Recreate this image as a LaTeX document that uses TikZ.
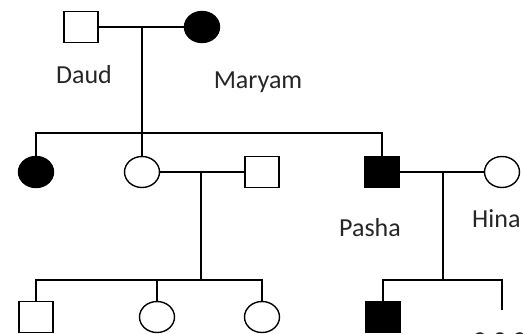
\documentclass[tikz,border=0pt]{standalone}
\usepackage{fontspec}
\setmainfont{Carlito}
\usetikzlibrary{shapes.geometric}
\begin{document}
\begin{tikzpicture}[x=1pt,y=-1pt,
  person/.style={draw=black, line width=1.4pt, inner sep=0pt, fill=white},
  male/.style={person, rectangle, minimum width=34pt, minimum height=31pt},
  female/.style={person, ellipse, minimum width=35pt, minimum height=31pt},
  affected/.style={fill=black},
  link/.style={draw=black, line width=1.4pt},
  lbl/.style={font=\fontsize{26}{30}\selectfont, text=black!85, inner sep=0pt}]
\useasboundingbox (0,0) rectangle (523,333);

% generation I
\node[male] (daud) at (81,27) {};
\node[female, affected] (maryam) at (202,27) {};
\coordinate (m1) at (142,27);
\node[lbl] (ldaud) at (84,75) {Daud};
\node[lbl] (lmaryam) at (258,82) {Maryam};

% generation II
\node[female, affected] (c1) at (36,172) {};
\node[female] (c2) at (142,172) {};
\node[male] (sp) at (262,172) {};
\node[male, affected] (pasha) at (382,172) {};
\node[female] (hina) at (502,172) {};
\coordinate (s1) at (142,133);
\coordinate (m2) at (201,172);
\coordinate (m3) at (443,172);
\node[lbl] (lpasha) at (370,228) {Pasha};
\node[lbl, anchor=west] (lhina) at (472,219) {Hina};

% generation III
\node[male] (g1) at (36,317) {};
\node[female] (g2) at (157,317) {};
\node[female] (g3) at (262,317) {};
\node[male, affected] (g4) at (383,317) {};
\coordinate (s2) at (201,280);
\coordinate (s3) at (443,280);
\coordinate (g5) at (502,310);
\node[lbl, anchor=west] (lq) at (474,342) {? ? ?};

% couple lines
\draw[link] (daud.east) -- (maryam.west);
\draw[link] (c2.east) -- (sp.west);
\draw[link] (pasha.east) -- (hina.west);

% descent lines
\draw[link] (m1) -- (c2.north);
\draw[link] (c1.north) |- (s1) -| (pasha.north);
\draw[link] (m2) -- (s2);
\draw[link] (g1.north) |- (s2) -| (g3.north);
\draw[link] (g2.north) -- (g2.north |- s2);
\draw[link] (m3) -- (s3);
\draw[link] (g4.north) |- (s3) -| (g5);
\end{tikzpicture}
\end{document}
